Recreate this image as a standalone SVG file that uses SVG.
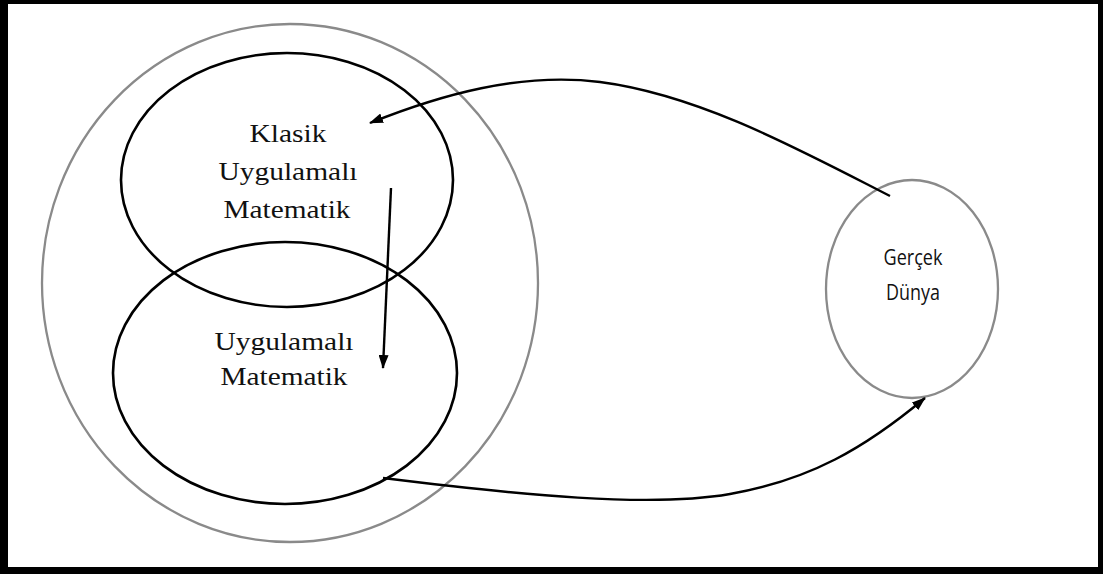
<svg xmlns="http://www.w3.org/2000/svg" width="1103" height="574" viewBox="0 0 1103 574">
  <style>
    .outer { fill: none; stroke: #8a8a8a; stroke-width: 2.3; }
    .set { fill: none; stroke: #000; stroke-width: 2.6; }
    .conn { fill: none; stroke: #000; stroke-width: 2.4; }
    .serif { font-family: "Liberation Serif", "Times New Roman", serif; font-size: 25px; fill: #111; text-anchor: middle; }
    .sans { font-family: "Open Sans", "Noto Sans", sans-serif; font-size: 22px; fill: #111; text-anchor: middle; }
  </style>
  <defs>
    <marker id="arrow" viewBox="0 0 14 10" refX="13" refY="5" markerWidth="14" markerHeight="10" markerUnits="userSpaceOnUse" orient="auto">
      <path d="M0,0 L14,5 L0,10 Z" fill="#000"/>
    </marker>
  </defs>

  <!-- page and frame -->
  <rect x="0" y="0" width="1103" height="574" fill="#fff"/>
  <path d="M0,0 H1103 V574 H0 Z M8,4 V567 H1098 V4 Z" fill="#000" fill-rule="evenodd"/>

  <!-- mathematics domain -->
  <g id="mathematics">
    <ellipse class="outer" cx="290" cy="283" rx="248" ry="259"/>
  </g>

  <g id="classical-applied">
    <ellipse class="set" cx="287" cy="180" rx="166" ry="127"/>
    <text class="serif" x="288" y="142" textLength="77" lengthAdjust="spacingAndGlyphs">Klasik</text>
    <text class="serif" x="288" y="180" textLength="139" lengthAdjust="spacingAndGlyphs">Uygulamalı</text>
    <text class="serif" x="287" y="218" textLength="127" lengthAdjust="spacingAndGlyphs">Matematik</text>
  </g>

  <g id="applied">
    <ellipse class="set" cx="285" cy="373" rx="172" ry="131"/>
    <text class="serif" x="284" y="350" textLength="139" lengthAdjust="spacingAndGlyphs">Uygulamalı</text>
    <text class="serif" x="284" y="385" textLength="127" lengthAdjust="spacingAndGlyphs">Matematik</text>
  </g>

  <g id="real-world">
    <ellipse class="outer" cx="912" cy="289" rx="86" ry="109"/>
    <text class="sans" x="913" y="265" textLength="59" lengthAdjust="spacingAndGlyphs">Gerçek</text>
    <text class="sans" x="913" y="300" textLength="54" lengthAdjust="spacingAndGlyphs">Dünya</text>
  </g>

  <!-- connectors -->
  <g id="connectors">
    <path class="conn" d="M890,196 C800,150 700,95 600,82 C520,72 440,95 370,123" marker-end="url(#arrow)"/>
    <path class="conn" d="M391,188 L383,368" marker-end="url(#arrow)"/>
    <path class="conn" d="M383,478 C520,495 650,508 730,494 S865,448 925,398" marker-end="url(#arrow)"/>
  </g>
</svg>
